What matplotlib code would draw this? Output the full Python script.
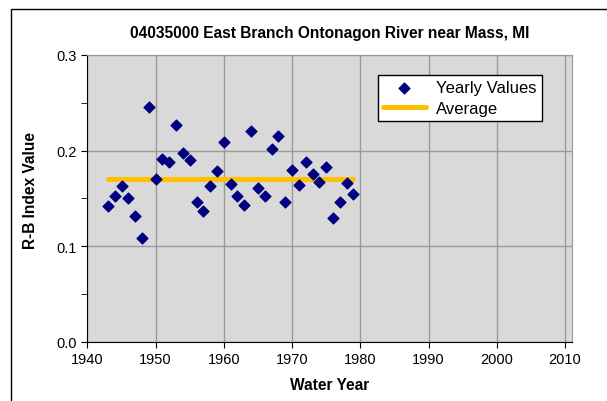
import matplotlib
matplotlib.use("Agg")
import matplotlib.pyplot as plt
from matplotlib.patches import Rectangle
from matplotlib.ticker import MultipleLocator

plt.rcParams['font.family'] = ['Liberation Sans', 'DejaVu Sans']

# Yearly R-B index values
years = list(range(1943, 1980))
rb_values = [0.142, 0.153, 0.163, 0.150, 0.132, 0.109, 0.245, 0.170, 0.191, 0.188,
             0.227, 0.197, 0.190, 0.146, 0.137, 0.163, 0.179, 0.209, 0.165, 0.153,
             0.143, 0.220, 0.161, 0.153, 0.202, 0.215, 0.146, 0.180, 0.164, 0.188,
             0.175, 0.167, 0.183, 0.130, 0.146, 0.166, 0.155]
avg_years = [1943, 1979]
avg_value = 0.170

title = "04035000 East Branch Ontonagon River near Mass, MI"

fig = plt.figure(figsize=(6.07, 4.02), dpi=100)
ax = fig.add_axes([0.144, 0.147, 0.798, 0.714])

# Rahmen um das ganze Diagramm (rechts/unten abgeschnitten)
fig.patches.append(Rectangle((11 / 607, -0.1), 1.2, 1 - 10 / 402 + 0.1,
                             transform=fig.transFigure, fill=False,
                             edgecolor='black', linewidth=1.0))

ax.set_facecolor('#D9D9D9')
ax.plot(avg_years, [avg_value, avg_value], color='#FFC000', linewidth=3.6,
        solid_capstyle='round', label='Average', zorder=3)
ax.scatter(years, rb_values, marker='D', s=30, color='#000080',
           label='Yearly Values', zorder=4)

ax.set_xlim(1940, 2011)
ax.set_ylim(0, 0.3)
ax.xaxis.set_major_locator(MultipleLocator(10))
ax.yaxis.set_major_locator(MultipleLocator(0.1))
ax.yaxis.set_minor_locator(MultipleLocator(0.05))
ax.yaxis.set_major_formatter(matplotlib.ticker.FormatStrFormatter('%.1f'))
ax.grid(True, which='major', color='#9A9A9A', linewidth=1.0)
ax.set_axisbelow(True)

for side in ['top', 'right']:
    ax.spines[side].set_color('#9A9A9A')
for side in ['left', 'bottom']:
    ax.spines[side].set_color('black')

ax.tick_params(axis='both', which='both', direction='out', labelsize=10.5,
               colors='black', length=4)
ax.tick_params(axis='y', which='minor', length=4)

ax.set_title(title, fontsize=11.2, fontweight='bold', pad=13)
ax.set_xlabel('Water Year', fontsize=11.2, fontweight='bold', labelpad=8)
ax.set_ylabel('R-B Index Value', fontsize=11.2, fontweight='bold')
ax.yaxis.set_label_coords(-0.102, 0.53)

handles, labels = ax.get_legend_handles_labels()
leg = ax.legend(handles[::-1], labels[::-1], loc='upper right',
                bbox_to_anchor=(0.955, 0.958), fontsize=12, frameon=True,
                fancybox=False, edgecolor='black', framealpha=1,
                handlelength=2.6, borderpad=0.3, labelspacing=0.35,
                handletextpad=0.6, scatterpoints=1)
leg.get_frame().set_linewidth(1.0)

fig.savefig('out.png', dpi=100)
